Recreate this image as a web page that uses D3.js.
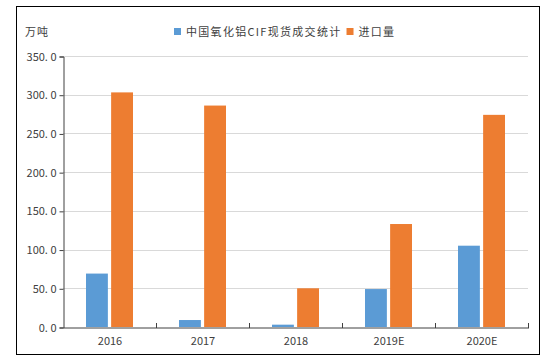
<!DOCTYPE html>
<html><head><meta charset="utf-8">
<script src="https://cdn.jsdelivr.net/npm/d3@7"></script>
<style>body{margin:0;background:#fff}svg{display:block}</style>
</head><body>
<script>
const categories = ["2016","2017","2018","2019E","2020E"];
const seriesNames = ["中国氧化铝CIF现货成交统计","进口量"];
const cifValues = [69, 9, 3, 49, 105];
const importValues = [303, 286, 50, 133, 274];
const yTicks = [0,50,100,150,200,250,300,350];
const unitLabel = "万吨";
const colors = ["#5B9BD5","#ED7D31"];

const W=551,H=364;
const svg=d3.select("body").append("svg").attr("width",W).attr("height",H);
svg.append("rect").attr("x",16.5).attr("y",6.5).attr("width",523).attr("height",348)
  .attr("fill","#fff").attr("stroke","#000").attr("stroke-width",1);

const m={l:63,r:528,t:56,b:327};
const x=d3.scaleBand().domain(categories).range([m.l,m.r]);
const y=d3.scaleLinear().domain([0,350]).range([m.b,m.t]);
const inner=d3.scaleBand().domain([0,1]).range([0,47]).paddingInner(0.13);
const font="'Noto Sans CJK SC', sans-serif";

// gridlines
svg.append("g").selectAll("line").data(yTicks.filter(d=>d>0)).join("line")
  .attr("x1",m.l).attr("x2",m.r).attr("y1",d=>Math.round(y(d))+0.5).attr("y2",d=>Math.round(y(d))+0.5)
  .attr("stroke","#d9d9d9");

// y axis
const ya=svg.append("g").attr("transform",`translate(${m.l+0.5},0.5)`)
  .call(d3.axisLeft(y).tickValues(yTicks).tickSize(4).tickFormat(d=>d3.format(".1f")(d).replace(".",". ")));
ya.select(".domain").attr("stroke","#404040");
ya.selectAll(".tick line").attr("stroke","#404040");
ya.selectAll("text").attr("font-family",font).attr("font-size",11).attr("fill","#404040").attr("x",-7);

// x axis
const xa=svg.append("g").attr("transform",`translate(0.5,${m.b+0.5})`)
  .call(d3.axisBottom(x).tickSize(0).tickPadding(10));
xa.select(".domain").attr("stroke","#404040");
xa.selectAll("text").attr("font-family",font).attr("font-size",11).attr("fill","#404040");
svg.append("g").selectAll("line").data(categories.slice(1)).join("line")
  .attr("x1",d=>Math.round(x(d))+0.5).attr("x2",d=>Math.round(x(d))+0.5)
  .attr("y1",m.b-4).attr("y2",m.b+1).attr("stroke","#404040");
svg.append("line").attr("x1",m.r+0.5).attr("x2",m.r+0.5).attr("y1",m.b-4).attr("y2",m.b+1).attr("stroke","#404040");

// bars
const off=(x.bandwidth()-47)/2;
[cifValues,importValues].forEach((vals,si)=>{
  svg.append("g").selectAll("rect").data(vals).join("rect")
    .attr("x",(d,i)=>x(categories[i])+off+inner(si))
    .attr("width",inner.bandwidth())
    .attr("y",d=>y(d)).attr("height",d=>m.b-y(d))
    .attr("fill",colors[si]);
});

// unit label
svg.append("text").attr("x",25).attr("y",36).text(unitLabel)
  .attr("font-family",font).attr("font-size",11).attr("fill","#404040").attr("letter-spacing",1);

// legend
const lg=svg.append("g").attr("transform","translate(174,28)");
let lx=0;
seriesNames.forEach((n,i)=>{
  lg.append("rect").attr("x",lx).attr("y",0).attr("width",7).attr("height",7).attr("fill",colors[i]);
  const t=lg.append("text").attr("x",lx+12).attr("y",8).text(n)
    .attr("font-family",font).attr("font-size",11).attr("fill","#404040").attr("letter-spacing",1.3);
  lx+=12+t.node().getComputedTextLength()+5;
});
</script>
</body></html>
